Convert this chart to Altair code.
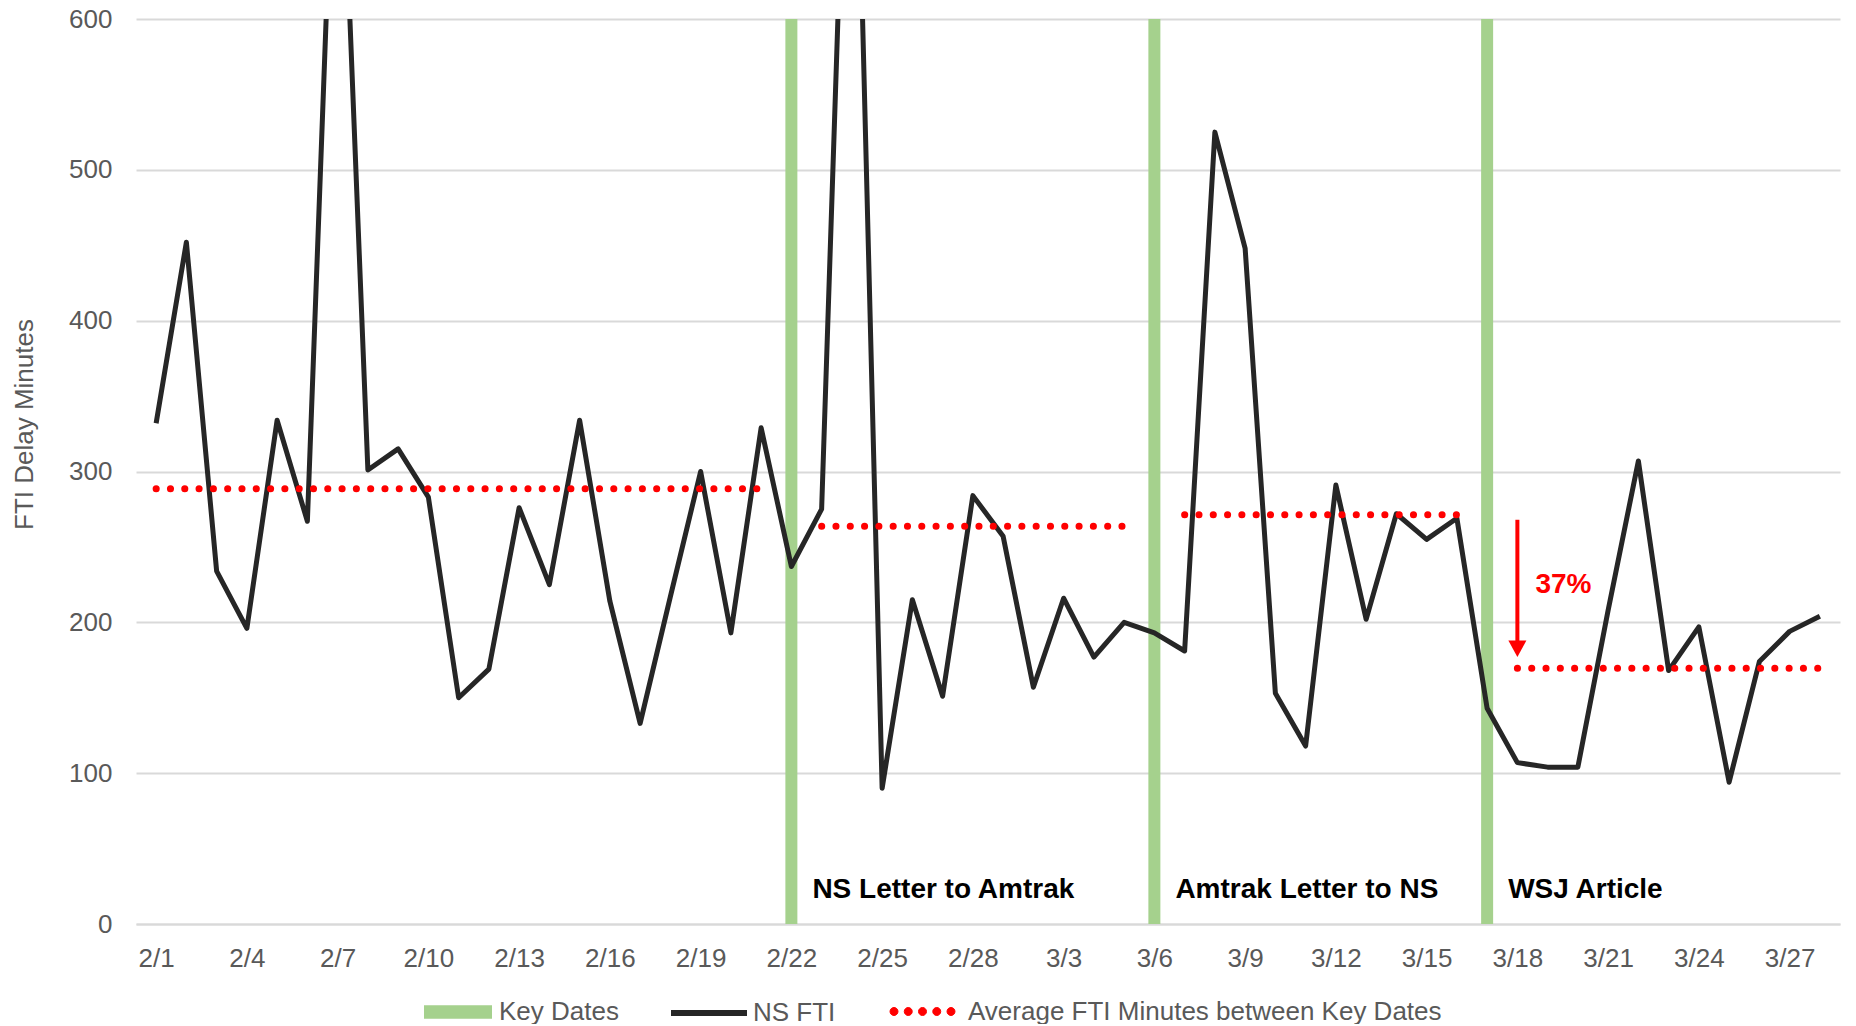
import altair as alt
import pandas as pd

# ---------------- data ----------------
dates = ["2/1", "2/2", "2/3", "2/4", "2/5", "2/6", "2/7", "2/8", "2/9", "2/10",
         "2/11", "2/12", "2/13", "2/14", "2/15", "2/16", "2/17", "2/18", "2/19", "2/20",
         "2/21", "2/22", "2/23", "2/24", "2/25", "2/26", "2/27", "2/28",
         "3/1", "3/2", "3/3", "3/4", "3/5", "3/6", "3/7", "3/8", "3/9", "3/10",
         "3/11", "3/12", "3/13", "3/14", "3/15", "3/16", "3/17", "3/18", "3/19", "3/20",
         "3/21", "3/22", "3/23", "3/24", "3/25", "3/26", "3/27", "3/28"]
ns_fti = [332, 452, 234, 196, 334, 267, 804, 301, 315, 283,
          150, 169, 276, 225, 334, 214, 133, 217, 300, 193,
          329, 237, 275, 879, 90, 215, 151, 284,
          257, 157, 216, 177, 200, 193, 181, 525, 448, 153,
          118, 291, 202, 272, 255, 269, 143, 107, 104, 104,
          208, 307, 168, 197, 94, 174, 194, 204]
tick_labels = ["2/1", "2/4", "2/7", "2/10", "2/13", "2/16", "2/19", "2/22", "2/25", "2/28",
               "3/3", "3/6", "3/9", "3/12", "3/15", "3/18", "3/21", "3/24", "3/27"]
y_ticks = [0, 100, 200, 300, 400, 500, 600]

key_dates = ["2/22", "3/6", "3/17"]
key_labels = ["NS Letter to Amtrak", "Amtrak Letter to NS", "WSJ Article"]
key_label_y = 17

avg_start = ["2/1", "2/23", "3/7", "3/18"]
avg_end = ["2/21", "3/5", "3/16", "3/28"]
avg_values = [288.5, 263.7, 271.4, 169.5]

arrow_date = "3/18"
arrow_from = 268
arrow_shaft_end = 187
arrow_tip = 177
change_label = "37%"
change_label_y = 219.7

SER_KEY = "Key Dates"
SER_FTI = "NS FTI"
SER_AVG = "Average FTI Minutes between Key Dates"

GREEN = "#A5D18D"
BLACK = "#262626"
RED = "#FF0000"
GRAY_TXT = "#595959"
GRID = "#D9D9D9"
FONT = "Liberation Sans"

# ---------------- tables ----------------
idx = {d: i for i, d in enumerate(dates)}
fti_df = pd.DataFrame({"day": list(range(len(dates))), "value": ns_fti, "series": SER_FTI})
key_df = pd.DataFrame({"day": [idx[d] for d in key_dates], "value": y_ticks[-1],
                       "label": key_labels, "ly": key_label_y, "series": SER_KEY})
rows = []
for s, (a, b, v) in enumerate(zip(avg_start, avg_end, avg_values)):
    for d in range(idx[a], idx[b] + 1):
        rows.append({"day": d, "value": v, "seg": s, "series": SER_AVG})
avg_df = pd.DataFrame(rows)
arrow_df = pd.DataFrame({"day": [idx[arrow_date]], "y1": [arrow_from], "y2": [arrow_shaft_end],
                         "tip": [arrow_tip], "ty": [change_label_y], "txt": [change_label]})

label_expr = "[" + ",".join("'%s'" % d for d in dates) + "][datum.value]"
tick_days = [idx[t] for t in tick_labels]

xscale = alt.Scale(domain=[-0.5, len(dates) - 0.5], nice=False, zero=False)
yscale = alt.Scale(domain=[y_ticks[0], y_ticks[-1]], nice=False)

xaxis = alt.Axis(values=tick_days, labelExpr=label_expr, title=None, grid=False,
                 ticks=False, tickSize=0, labelPadding=21, domain=True,
                 domainColor=GRID, domainWidth=2, labelFontSize=26, labelColor=GRAY_TXT,
                 labelFont=FONT, labelFlush=False, labelOverlap=False)
yaxis = alt.Axis(values=y_ticks, title="FTI Delay Minutes", grid=True, gridColor=GRID,
                 gridWidth=2, domain=False, ticks=False, tickSize=0, labelPadding=24,
                 labelFontSize=26, labelColor=GRAY_TXT, labelFont=FONT,
                 titleFont=FONT, titleFontSize=26, titleFontWeight="normal",
                 titleColor=GRAY_TXT, titleAngle=270, titleX=-112, titleY=405,
                 titleAlign="center", titleBaseline="middle")


def X():
    return alt.X("day:Q", scale=xscale, axis=xaxis, title=None)


def Y(field):
    return alt.Y(field, scale=yscale, axis=yaxis, title="FTI Delay Minutes")


RECT_PATH = "M-1,-0.2H1V0.2H-1Z"
r = 0.133
DOTS_PATH = "".join(
    "M%.3f,0A%.3f %.3f 0 1 0 %.3f 0A%.3f %.3f 0 1 0 %.3f 0Z" % (c - r, r, r, c + r, r, r, c - r)
    for c in [-0.95, -0.475, 0.0, 0.475, 0.95])
ARROW_PATH = "M-1,-1.83L1,-1.83L0,0Z"

legA = alt.Legend(title=None, orient="none", legendX=287, legendY=958,
                  symbolType=RECT_PATH, symbolSize=4624, labelOffset=6)
legB = alt.Legend(title=None, orient="none", legendX=532, legendY=953,
                  symbolType="stroke", symbolSize=5776, symbolStrokeWidth=6, labelOffset=3)
legC = alt.Legend(title=None, orient="none", legendX=756, legendY=962,
                  symbolType=DOTS_PATH, symbolSize=3600, symbolFillColor=RED,
                  symbolStrokeColor=RED, symbolStrokeWidth=1, labelOffset=15)

bars = alt.Chart(key_df).mark_bar(size=12).encode(
    x=X(),
    y=Y("value:Q"),
    fill=alt.Fill("series:N", scale=alt.Scale(domain=[SER_KEY], range=[GREEN]), legend=legA),
)

line = alt.Chart(fti_df).mark_line(strokeJoin="round", clip=True).encode(
    x=X(),
    y=Y("value:Q"),
    stroke=alt.Stroke("series:N", scale=alt.Scale(domain=[SER_FTI], range=[BLACK]), legend=legB),
    strokeWidth=alt.value(5),
)

avg = alt.Chart(avg_df).mark_line(color=RED, strokeCap="round", clip=True).encode(
    x=X(),
    y=Y("value:Q"),
    detail="seg:N",
    opacity=alt.Opacity("series:N", scale=alt.Scale(domain=[SER_AVG], range=[1]), legend=legC),
    strokeWidth=alt.value(7),
    strokeDash=alt.value([0.1, 14.2]),
)

key_text = alt.Chart(key_df).mark_text(align="left", baseline="alphabetic", dx=21,
                                       font=FONT, fontSize=28, fontWeight="bold",
                                       color="#000000").encode(
    x=X(), y=Y("ly:Q"), text="label:N")

shaft = alt.Chart(arrow_df).mark_rule(color=RED, strokeWidth=4).encode(
    x=X(), y=Y("y1:Q"), y2="y2:Q")
head = alt.Chart(arrow_df).mark_point(shape=ARROW_PATH, size=324, filled=True, color=RED,
                                      opacity=1, strokeWidth=0).encode(
    x=X(), y=Y("tip:Q"))
pct = alt.Chart(arrow_df).mark_text(align="left", baseline="alphabetic", dx=18, font=FONT,
                                    fontSize=28, fontWeight="bold", color=RED).encode(
    x=X(), y=Y("ty:Q"), text="txt:N")

chart = alt.layer(bars, line, avg, key_text, shaft, head, pct).properties(
    width=1704, height=905,
    padding={"left": 128, "top": 11, "right": 8, "bottom": 100},
    autosize=alt.AutoSizeParams(type="none"),
    background="white",
).configure_view(stroke=None).configure_legend(
    labelFont=FONT, labelFontSize=26, labelColor=GRAY_TXT, labelLimit=1000, padding=0
)

chart.save("out.html", embed_options={"renderer": "svg", "actions": False})
